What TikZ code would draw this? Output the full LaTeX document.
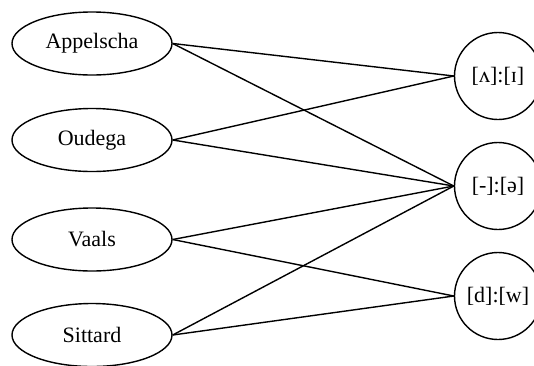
\documentclass[tikz,border=0pt]{standalone}
\usepackage{fontspec}
\setmainfont{Liberation Serif}
\usetikzlibrary{shapes.geometric}
\begin{document}
\begin{tikzpicture}[x=1pt,y=-1pt,
  place/.style={draw,ellipse,line width=1.4pt,minimum width=160pt,minimum height=63pt,inner sep=0pt,font=\fontsize{22}{26}\selectfont},
  sound/.style={draw,circle,line width=1.4pt,minimum size=87pt,inner sep=0pt,font=\fontsize{22}{26}\selectfont},
  link/.style={line width=1.4pt}]
\clip (0,0) rectangle (534,365);
\node[place] (app) at (92,43.5) {Appelscha};
\node[place] (oud) at (92,140) {Oudega};
\node[place] (vaa) at (92,239.5) {Vaals};
\node[place] (sit) at (92,335) {Sittard};
\node[sound] (s1) at (498,76) {[ʌ]:[ɪ]};
\node[sound] (s2) at (498,186) {[-]:[ə]};
\node[sound] (s3) at (498,296) {[d]:[w]};
\draw[link] (app.east) -- (s1.west);
\draw[link] (app.east) -- (s2.west);
\draw[link] (oud.east) -- (s1.west);
\draw[link] (oud.east) -- (s2.west);
\draw[link] (vaa.east) -- (s2.west);
\draw[link] (vaa.east) -- (s3.west);
\draw[link] (sit.east) -- (s2.west);
\draw[link] (sit.east) -- (s3.west);
\end{tikzpicture}
\end{document}
